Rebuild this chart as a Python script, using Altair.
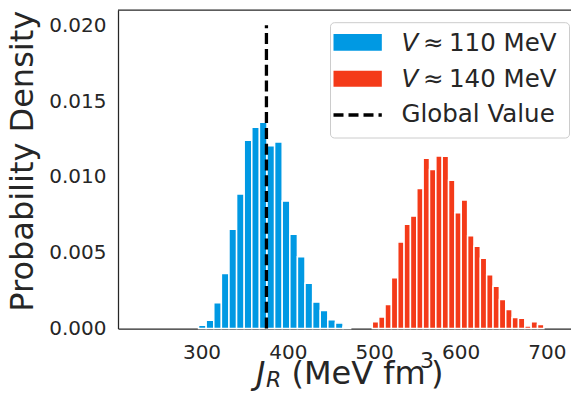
import altair as alt
import pandas as pd

# ---- data ----
blue_density = [0.00022, 0.00055, 0.00169, 0.00363, 0.00655, 0.00886, 0.01241,
                0.01327, 0.01360, 0.01205, 0.01229, 0.00840, 0.00621, 0.00473,
                0.00299, 0.00174, 0.00119, 0.00057, 0.00037, 0.00010]
red_density = [0.00044, 0.00076, 0.00159, 0.00334, 0.00571, 0.00688, 0.00741,
               0.00923, 0.01122, 0.01049, 0.01137, 0.01135, 0.00978, 0.00763,
               0.00847, 0.00611, 0.00543, 0.00464, 0.00354, 0.00279, 0.00192,
               0.00125, 0.00072, 0.00068, 0.00017, 0.00044, 0.00027]
BLUE_START, BLUE_WIDTH = 296.6, 8.806
RED_START, RED_WIDTH = 497.8, 7.358
GLOBAL_VALUE = 375.2
series_labels = ["V ≈ 110 MeV", "V ≈ 140 MeV"]
colors = ["#0099e3", "#f43a19"]
x_ticks = [300, 400, 500, 600, 700]
y_ticks = [0.0, 0.005, 0.010, 0.015, 0.020]

rows = []
for i, d in enumerate(blue_density):
    lo = BLUE_START + i * BLUE_WIDTH
    rows.append({"lo": lo, "hi": lo + BLUE_WIDTH, "density": d, "base": 0.0,
                 "series": series_labels[0]})
for i, d in enumerate(red_density):
    lo = RED_START + i * RED_WIDTH
    rows.append({"lo": lo, "hi": lo + RED_WIDTH, "density": d, "base": 0.0,
                 "series": series_labels[1]})
df = pd.DataFrame(rows)

W, H = 453, 318.5
FONT = "DejaVu Sans"
TXT = "#262626"
xs = alt.Scale(domain=[209.1, 722.1], nice=False, zero=False)
ys = alt.Scale(domain=[0, 0.021], nice=False, zero=True)

bars = alt.Chart(df).mark_bar(stroke="white", strokeWidth=1.5, orient="vertical").encode(
    x=alt.X("lo:Q", scale=xs, title=None,
            axis=alt.Axis(values=x_ticks, labelFontSize=20, labelPadding=14, ticks=False,
                          tickSize=0, grid=False, labelFlush=False, domainColor=TXT,
                          domainWidth=1.25, labelColor=TXT, labelFont=FONT)),
    x2="hi:Q",
    y=alt.Y("density:Q", scale=ys,
            axis=alt.Axis(values=y_ticks, format=".3f", labelFontSize=20, labelPadding=12,
                          ticks=False, tickSize=0, grid=False, domainColor=TXT,
                          domainWidth=1.25, labelColor=TXT, labelFont=FONT,
                          title="Probability Density", titleFontSize=32,
                          titleFontWeight="normal", titleFont=FONT, titleColor=TXT,
                          titleAngle=270, titleX=-85.3, titleY=150.8,
                          titleAlign="center", titleBaseline="alphabetic")),
    y2="base:Q",
    color=alt.Color("series:N", scale=alt.Scale(domain=series_labels, range=colors), legend=None),
)

gv = pd.DataFrame({"x": [GLOBAL_VALUE], "y": [0.0], "y2": [0.020]})
rule = alt.Chart(gv).mark_rule(color="black", strokeWidth=3.3, strokeDash=[11, 4.8]).encode(
    x=alt.X("x:Q", scale=xs), y=alt.Y("y:Q", scale=ys), y2="y2:Q")

one = pd.DataFrame({"a": [0]})


def txt(text, x, y, size, italic=False):
    return alt.Chart(one).mark_text(
        text=text, font=FONT, fontSize=size, color=TXT, align="left",
        baseline="alphabetic", fontStyle="italic" if italic else "normal"
    ).encode(x=alt.value(x), y=alt.value(y))


top_border = alt.Chart(one).mark_rule(color=TXT, strokeWidth=1.25).encode(
    x=alt.value(0), x2=alt.value(W + 5), y=alt.value(0))

legend_box = alt.Chart(one).mark_rect(
    fill="white", fillOpacity=0.8, stroke="#cccccc", strokeWidth=1, cornerRadius=4
).encode(x=alt.value(212.5), x2=alt.value(451.5), y=alt.value(12.7), y2=alt.value(128))
sw_blue = alt.Chart(one).mark_rect(fill=colors[0]).encode(
    x=alt.value(215.5), x2=alt.value(263.8), y=alt.value(24), y2=alt.value(40.7))
sw_red = alt.Chart(one).mark_rect(fill=colors[1]).encode(
    x=alt.value(215.5), x2=alt.value(263.8), y=alt.value(60.7), y2=alt.value(76.7))
sw_line = alt.Chart(one).mark_rule(color="black", strokeWidth=3.3, strokeDash=[10, 5]).encode(
    x=alt.value(215.5), x2=alt.value(263.8), y=alt.value(105))

LF = 24.5
LX = 283.5
legend_texts = [
    txt("V", LX, 40.7, LF, True), txt("≈", LX + 21.5, 40.7, LF), txt("110 MeV", LX + 47.5, 40.7, LF),
    txt("V", LX, 76.7, LF, True), txt("≈", LX + 21.5, 76.7, LF), txt("140 MeV", LX + 47.5, 76.7, LF),
    txt("Global Value", LX, 112.3, LF),
]

TF = 32
TY = 374
xtitle = [
    txt("J", 138, TY, TF, True),
    txt("R", 148, TY + 3, 22, True),
    txt("(MeV fm", 173.5, TY, TF),
    txt("3", 302, TY - 15.7, 22),
    txt(")", 313, TY, TF),
]

chart = alt.layer(
    bars, rule, top_border, legend_box, sw_blue, sw_red, sw_line, *legend_texts, *xtitle
).properties(
    width=W, height=H,
    autosize=alt.AutoSizeParams(type="none"),
    padding={"left": 110, "top": 2, "right": 0, "bottom": 62.5},
).configure_view(stroke=None)

chart.save("out.html", embed_options={"renderer": "svg", "actions": False})
